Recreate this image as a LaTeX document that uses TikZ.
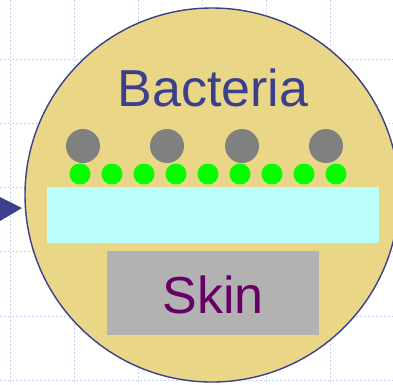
\documentclass[tikz,border=0pt]{standalone}
\usepackage{fontspec}
\setmainfont{Liberation Sans}
\definecolor{rim}{HTML}{3C3F8C}
\definecolor{disc}{HTML}{EAD687}
\definecolor{gridc}{HTML}{C8D2F6}
\definecolor{layer}{HTML}{BBFFFA}
\definecolor{skinc}{HTML}{B2B2B2}
\definecolor{skintext}{HTML}{660066}
\definecolor{bact}{HTML}{808080}
\definecolor{dotg}{HTML}{00FF00}
\begin{document}
\begin{tikzpicture}[x=1pt,y=-1pt,
  gridline/.style={gridc,line width=1pt,dash pattern=on 2pt off 2pt},
  bigdisc/.style={circle,draw=rim,fill=disc,line width=1.4pt,minimum size=374pt,inner sep=0pt},
  bacterium/.style={circle,fill=bact,minimum size=34pt,inner sep=0pt},
  greendot/.style={circle,fill=dotg,minimum size=21pt,inner sep=0pt},
  lbl/.style={font=\fontsize{52}{52}\selectfont,inner sep=0pt}]
\useasboundingbox (0,0) rectangle (393,384);
\fill[white] (0,0) rectangle (393,384);
\foreach \x in {10,74,138,202,266,330} \draw[gridline] (\x,0) -- (\x,384);
\foreach \y in {59,123,187,251,316,380} \draw[gridline] (0,\y) -- (393,\y);
\node[bigdisc] (disc) at (212,195) {};
\fill[rim] (0,197) -- (22,208) -- (0,221) -- cycle;
\node[lbl,text=rim,anchor=base] (bacteria) at (213,106) {Bacteria};
\foreach \x [count=\i] in {83,167,242,326} \node[bacterium] (b\i) at (\x,146) {};
\foreach \k in {0,...,8} \node[greendot] (g\k) at (80+32*\k,174) {};
\node[fill=layer,minimum width=332pt,minimum height=56pt,inner sep=0pt] (layer) at (213,215) {};
\node[fill=skinc,minimum width=212pt,minimum height=84pt,inner sep=0pt] (skin) at (213,293) {};
\node[lbl,text=skintext,anchor=base] (skinlabel) at (213,313) {Skin};
\end{tikzpicture}
\end{document}
